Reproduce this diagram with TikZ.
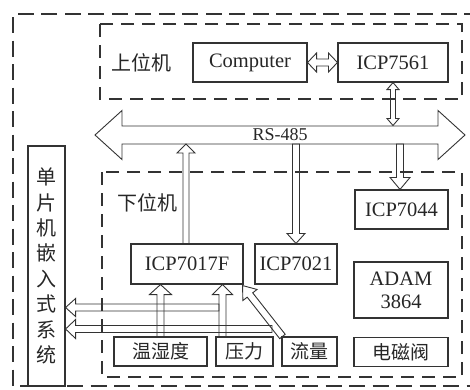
\documentclass[tikz,border=0pt]{standalone}
\usepackage{fontspec}
\setmainfont{Liberation Serif}
\newfontfamily\cjk{Noto Sans CJK SC}
\usetikzlibrary{calc}
\newcommand{\hollowarrow}[5]{%
  \coordinate (ha-H) at ($(#2)!#5!(#1)$);
  \draw[arr] ($(#1)!#3!-90:(#2)$) -- ($(ha-H)!#3!90:(#1)$) -- ($(ha-H)!#4!90:(#1)$) -- (#2) -- ($(ha-H)!#4!-90:(#1)$) -- ($(ha-H)!#3!-90:(#1)$) -- ($(#1)!#3!90:(#2)$) -- cycle;}
\newcommand{\hollowdarrow}[5]{%
  \coordinate (hd-H1) at ($(#1)!#5!(#2)$);
  \coordinate (hd-H2) at ($(#2)!#5!(#1)$);
  \draw[arr] (#1) -- ($(hd-H1)!#4!90:(#2)$) -- ($(hd-H1)!#3!90:(#2)$) -- ($(hd-H2)!#3!-90:(#1)$) -- ($(hd-H2)!#4!-90:(#1)$) -- (#2) -- ($(hd-H2)!#4!90:(#1)$) -- ($(hd-H2)!#3!90:(#1)$) -- ($(hd-H1)!#3!-90:(#2)$) -- ($(hd-H1)!#4!-90:(#2)$) -- cycle;}
\begin{document}
\begin{tikzpicture}[x=1pt,y=-1pt,
  box/.style={draw=black!80,line width=1.1pt,inner sep=0pt,minimum width=#1,font=\fontsize{20.5}{23}\selectfont,text=black!85},
  cbox/.style={box=#1,minimum height=29pt,font=\cjk\fontsize{19}{22}\selectfont},
  arr/.style={draw=black!80,line width=0.9pt,line join=miter},
  outerdash/.style={draw=black!80,line width=1.7pt,dash pattern=on 16pt off 7.5pt},
  innerdash/.style={draw=black!80,line width=1.6pt,dash pattern=on 13pt off 8pt},
  lbl/.style={font=\cjk\fontsize{20}{22}\selectfont,text=black!85,inner sep=0pt}]
\useasboundingbox (0,0) rectangle (470,389);
\clip (0,0) rectangle (470,389);
% dashed frames
\draw[outerdash] (480,14) -- (13,14) -- (13,386) -- (480,386);
\draw[innerdash] (100,24) rectangle (462,99);
\draw[innerdash] (102,172) rectangle (462,377);
% labels
\node[lbl] (up) at (141,63) {上位机};
\node[lbl] (down) at (147,203) {下位机};
% nodes
\node[box=114pt,minimum height=39pt] (comp) at (250,62.5) {Computer};
\node[box=110pt,minimum height=39pt] (i7561) at (393,62.5) {ICP7561};
\node[box=93pt,minimum height=39pt] (i7044) at (401.5,209.5) {ICP7044};
\node[box=112pt,minimum height=40pt] (i7017) at (187,264) {ICP7017F};
\node[box=82pt,minimum height=40pt] (i7021) at (296,264) {ICP7021};
\node[box=94pt,minimum height=56pt,align=center] (adam) at (401,290) {ADAM\\3864};
\node[cbox=93pt] (wsd) at (160.5,351.5) {温湿度};
\node[cbox=57pt] (yl) at (244.5,351.5) {压力};
\node[cbox=55pt] (ll) at (309.5,351.5) {流量};
\node[cbox=94pt] (dcf) at (401,352) {电磁阀};
\node[box=37pt,minimum height=240pt,align=center,font=\cjk\fontsize{20}{25.4}\selectfont] (mcu) at (46.5,266) {单\\片\\机\\嵌\\入\\式\\系\\统};
% bus
\coordinate (busL) at (95,135);
\coordinate (busR) at (465,135);
\coordinate (bustop) at (0,126);
\coordinate (busbot) at (0,144);
\hollowdarrow{busL}{busR}{9pt}{24.5pt}{27pt}
\node[font=\fontsize{18}{20}\selectfont,text=black!85,inner sep=0pt] (rs) at (280,135) {RS-485};
% Computer <-> ICP7561
\hollowdarrow{comp.east}{i7561.west}{3.5pt}{9.5pt}{9pt}
% ICP7561 <-> bus
\coordinate (a1) at (i7561.south);
\coordinate (a2) at ($(a1 |- bustop)+(0,-0.5)$);
\hollowdarrow{a1}{a2}{2.5pt}{6pt}{7pt}
% ICP7017F -> bus
\coordinate (b1) at ($(i7017.north)+(-1,0)$);
\coordinate (b2) at (b1 |- busbot);
\hollowarrow{b1}{b2}{3pt}{9pt}{9pt}
% bus -> ICP7021
\coordinate (c2) at (i7021.north);
\coordinate (c1) at (c2 |- busbot);
\hollowarrow{c1}{c2}{3.5pt}{9pt}{10pt}
% bus -> ICP7044
\coordinate (d2) at ($(i7044.north)+(-1.5,0)$);
\coordinate (d1) at (d2 |- busbot);
\hollowarrow{d1}{d2}{3.5pt}{10pt}{12pt}
% sensors -> ICP7017F
\coordinate (e1) at (wsd.north);
\coordinate (e2) at (e1 |- i7017.south);
\hollowarrow{e1}{e2}{3.5pt}{11pt}{10pt}
\coordinate (f1) at ($(yl.north)+(-22,0)$);
\coordinate (f2) at (f1 |- i7017.south);
\hollowarrow{f1}{f2}{3.5pt}{10pt}{10pt}
\coordinate (g1) at ($(ll.north west)+(1,0)$);
\coordinate (g2) at ($(i7017.south east)+(-1,1)$);
\hollowarrow{g1}{g2}{3.5pt}{9pt}{12pt}
% to MCU
\coordinate (h1) at (219,307.5);
\coordinate (h2) at (mcu.east |- h1);
\hollowarrow{h1}{h2}{3.5pt}{9pt}{10pt}
\coordinate (k1) at (272,329);
\coordinate (k2) at (mcu.east |- k1);
\hollowarrow{k1}{k2}{3.5pt}{9.5pt}{10pt}
\end{tikzpicture}
\end{document}
